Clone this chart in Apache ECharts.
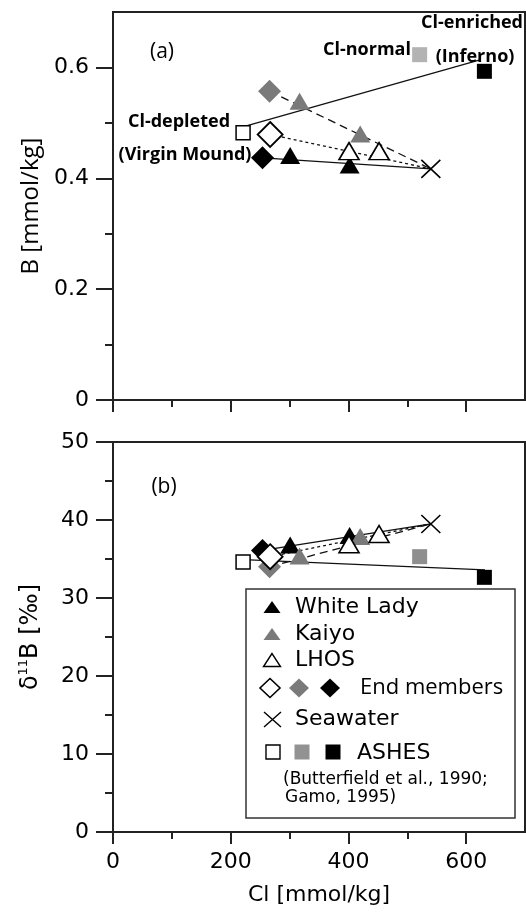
<!DOCTYPE html>
<html><head><meta charset="utf-8">
<script src="https://cdn.jsdelivr.net/npm/echarts@6/dist/echarts.min.js"></script>
<style>html,body{margin:0;padding:0;background:#fff}#c{width:526px;height:913px}</style>
</head><body><div id="c"></div><script>
// ---------- data ----------
const whiteLadyCl = [301, 402];
const whiteLadyB = [0.441, 0.424];
const whiteLadyD11B = [36.8, 38.0];
const kaiyoCl = [317, 420];
const kaiyoB = [0.539, 0.480];
const kaiyoD11B = [35.4, 37.9];
const lhosCl = [401, 452];
const lhosB = [0.449, 0.449];
const lhosD11B = [36.9, 38.2];
// end members: LHOS (open), Kaiyo (gray), White Lady (black)
const endMemberCl = [267, 266, 254];
const endMemberB = [0.479, 0.557, 0.437];
const endMemberD11B = [35.3, 34.0, 36.1];
const seawaterCl = [540];
const seawaterB = [0.417];
const seawaterD11B = [39.5];
// ASHES: Cl-depleted (Virgin Mound), Cl-normal, Cl-enriched (Inferno)
const ashesCl = [221, 521, 631];
const ashesB = [0.482, 0.623, 0.593];
const ashesD11B = [34.6, 35.3, 32.65];
// ASHES mixing line end points
const ashesLineClA = [228, 625];
const ashesLineB = [0.495, 0.614];
const ashesLineClB = [232, 632];
const ashesLineD11B = [34.9, 33.6];
// ticks
const clMajorTicks = [0, 200, 400, 600];
const clMinorTicks = [100, 300, 500];
const bMajorTicks = [0, 0.2, 0.4, 0.6];
const bMinorTicks = [0.1, 0.3, 0.5];
const dMajorTicks = [0, 10, 20, 30, 40, 50];
const dMinorTicks = [5, 15, 25, 35, 45];

// ---------- chart ----------
const FH = 'DejaVu Sans', FM = 'Open Sans';
const AX = '#222';
const chart = echarts.init(document.getElementById('c'));
const zip = (a, b) => a.map((v, i) => [v, b[i]]);

function xAx(gi, ticks, len, major, labels, extra) {
  return Object.assign({
    gridIndex: gi, type: 'value', min: 0, max: 700, position: 'bottom',
    axisLine: { show: major, onZero: false, lineStyle: { color: AX, width: 2 } },
    axisTick: { show: true, customValues: ticks, length: len, lineStyle: { color: AX, width: 2 } },
    axisLabel: labels ? { show: true, customValues: ticks, fontFamily: FH, fontSize: 22, color: '#000', margin: 19 } : { show: false },
    splitLine: { show: false }
  }, extra || {});
}
function yAx(gi, max, ticks, len, major, labels, extra) {
  return Object.assign({
    gridIndex: gi, type: 'value', min: 0, max: max, position: 'left',
    axisLine: { show: major, onZero: false, lineStyle: { color: AX, width: 2 } },
    axisTick: { show: true, customValues: ticks, length: len, lineStyle: { color: AX, width: 2 } },
    axisLabel: labels ? { show: true, customValues: ticks, fontFamily: FH, fontSize: 22, color: '#000', margin: 24, formatter: v => String(+v.toFixed(2)) } : { show: false },
    splitLine: { show: false }
  }, extra || {});
}

function line(xi, yi, data, dash) {
  return {
    type: 'line', xAxisIndex: xi, yAxisIndex: yi, data: data, symbol: 'none', silent: true, z: 1,
    lineStyle: { color: '#111', width: 1.3, type: dash || 'solid' }
  };
}
function pts(xi, yi, data, symbol, size, fill, border, bw, z) {
  return {
    type: 'scatter', xAxisIndex: xi, yAxisIndex: yi, data: data, symbol: symbol, symbolSize: size, silent: true, z: z || 3,
    itemStyle: { color: fill, borderColor: border || fill, borderWidth: bw || 0, opacity: 1 }
  };
}
const X_PATH = 'path://M0,0L20,20M20,0L0,20';

function panel(xi, yi, yvals, lineCl, lineY, graySq) {
  const em = zip(endMemberCl, yvals.em);
  const sw = [seawaterCl[0], yvals.sw[0]];
  return [
    line(xi, yi, zip(lineCl, lineY)),
    line(xi, yi, [em[2], sw]),
    line(xi, yi, [em[1], sw], [8, 5]),
    line(xi, yi, [em[0], sw], [3, 3]),
    pts(xi, yi, zip(whiteLadyCl, yvals.wl), 'triangle', [20, 17], '#000'),
    pts(xi, yi, zip(kaiyoCl, yvals.ky), 'triangle', [20, 17], '#7a7a7a'),
    pts(xi, yi, zip(lhosCl, yvals.lh), 'triangle', [20, 17], '#fff', '#000', 1.6, 4),
    pts(xi, yi, [em[1]], 'diamond', [23, 23], '#7a7a7a'),
    pts(xi, yi, [em[2]], 'diamond', [23, 23], '#000'),
    pts(xi, yi, [em[0]], 'diamond', [25, 25], '#fff', '#000', 1.8, 5),
    pts(xi, yi, [sw], X_PATH, [19, 18], 'none', '#000', 1.5),
    pts(xi, yi, [[ashesCl[0], yvals.as[0]]], 'rect', 14, '#fff', '#000', 1.5),
    pts(xi, yi, [[ashesCl[1], yvals.as[1]]], 'rect', 15, graySq),
    pts(xi, yi, [[ashesCl[2], yvals.as[2]]], 'rect', 15, '#000')
  ];
}

const series = [].concat(
  panel(0, 0, { wl: whiteLadyB, ky: kaiyoB, lh: lhosB, em: endMemberB, sw: seawaterB, as: ashesB }, ashesLineClA, ashesLineB, '#b3b3b3'),
  panel(2, 2, { wl: whiteLadyD11B, ky: kaiyoD11B, lh: lhosD11B, em: endMemberD11B, sw: seawaterD11B, as: ashesD11B }, ashesLineClB, ashesLineD11B, '#8f8f8f')
);

// legend graphics
function tri(cx, cy, w, h, fill, stroke) {
  return { type: 'polygon', z: 101, shape: { points: [[cx, cy - h / 2], [cx - w / 2, cy + h / 2], [cx + w / 2, cy + h / 2]] },
    style: { fill: fill, stroke: stroke || null, lineWidth: stroke ? 1.4 : 0 } };
}
function dia(cx, cy, w, h, fill, stroke) {
  return { type: 'polygon', z: 101, shape: { points: [[cx, cy - h / 2], [cx + w / 2, cy], [cx, cy + h / 2], [cx - w / 2, cy]] },
    style: { fill: fill, stroke: stroke || null, lineWidth: stroke ? 1.6 : 0 } };
}
function sq(cx, cy, s, fill, stroke) {
  return { type: 'rect', z: 101, shape: { x: cx - s / 2, y: cy - s / 2, width: s, height: s },
    style: { fill: fill, stroke: stroke || null, lineWidth: stroke ? 1.4 : 0 } };
}
function txt(x, y, t, font, align, opt) {
  return { type: 'text', z: 101, x: x, y: y,
    style: { text: t, fontFamily: font, fontSize: (opt && opt.size) || 22, fontWeight: (opt && opt.w) || 'normal', fill: '#000', align: align || 'left', verticalAlign: 'middle' } };
}
const graphics = [
  { type: 'rect', z: 100, shape: { x: 246, y: 589, width: 269, height: 229 }, style: { fill: '#fff', stroke: '#333', lineWidth: 1.5 } },
  tri(272, 607, 17, 12, '#000'), txt(295, 607, 'White Lady', FH),
  tri(272, 634, 17, 12, '#7a7a7a'), txt(295, 634, 'Kaiyo', FH),
  tri(272, 660, 17, 13, '#fff', '#000'), txt(295, 660, 'LHOS', FH),
  dia(270, 688, 20, 19, '#fff', '#000'), dia(299, 688, 20, 19, '#7a7a7a'), dia(330, 688, 20, 19, '#000'),
  txt(360, 688, 'End members', FM, 'left', { size: 22 }),
  { type: 'line', z: 101, shape: { x1: 264, y1: 712, x2: 281, y2: 727 }, style: { stroke: '#000', lineWidth: 1.4 } },
  { type: 'line', z: 101, shape: { x1: 281, y1: 712, x2: 264, y2: 727 }, style: { stroke: '#000', lineWidth: 1.4 } },
  txt(295, 719, 'Seawater', FH),
  sq(273, 752, 14, '#fff', '#000'), sq(302, 752, 15, '#929292'), sq(333, 752, 15, '#000'),
  txt(357, 753, 'ASHES', FH),
  txt(283, 780, '(Butterfield et al., 1990;', FH, 'left', { size: 17 }),
  txt(285, 798, 'Gamo, 1995)', FH, 'left', { size: 17 }),
  // panel annotations
  txt(162, 52, '(a)', FM, 'center', { size: 21 }),
  txt(164, 487, '(b)', FM, 'center', { size: 21 }),
  txt(523, 23, 'Cl-enriched', FM, 'right', { size: 18, w: 'bold' }),
  txt(475, 57, '(Inferno)', FM, 'center', { size: 18, w: 'bold' }),
  txt(367, 50, 'Cl-normal', FM, 'center', { size: 18, w: 'bold' }),
  txt(179, 122, 'Cl-depleted', FM, 'center', { size: 18, w: 'bold' }),
  txt(185, 155, '(Virgin Mound)', FM, 'center', { size: 18, w: 'bold' })
];

chart.setOption({
  animation: false,
  backgroundColor: '#fff',
  grid: [
    { left: 113, top: 12, width: 412, height: 388, show: true, borderColor: AX, borderWidth: 2, backgroundColor: 'transparent' },
    { left: 113, top: 442, width: 412, height: 390, show: true, borderColor: AX, borderWidth: 2, backgroundColor: 'transparent' }
  ],
  xAxis: [
    xAx(0, clMajorTicks, 12, true, false),
    xAx(0, clMinorTicks, 7, false, false),
    xAx(1, clMajorTicks, 12, true, true, { name: 'Cl [mmol/kg]', nameLocation: 'middle', nameGap: 52,
      nameTextStyle: { fontFamily: FH, fontSize: 22, color: '#000' } }),
    xAx(1, clMinorTicks, 7, false, false)
  ],
  yAxis: [
    yAx(0, 0.7, bMajorTicks, 17, true, true, { name: 'B [mmol/kg]', nameLocation: 'middle', nameGap: 68, nameRotate: 90,
      nameTextStyle: { fontFamily: FM, fontSize: 24, color: '#000' } }),
    yAx(0, 0.7, bMinorTicks, 8, false, false),
    yAx(1, 50, dMajorTicks, 17, true, true, { name: '{a|δ}{s|11}{a|B [‰]}', nameLocation: 'middle', nameGap: 68, nameRotate: 90,
      nameTextStyle: { color: '#000', rich: {
        a: { fontFamily: FH, fontSize: 24, color: '#000', lineHeight: 28 },
        s: { fontFamily: FH, fontSize: 13, color: '#000', verticalAlign: 'top', lineHeight: 28 } } } }),
    yAx(1, 50, dMinorTicks, 8, false, false)
  ],
  series: series,
  graphic: graphics
});
</script></body></html>
